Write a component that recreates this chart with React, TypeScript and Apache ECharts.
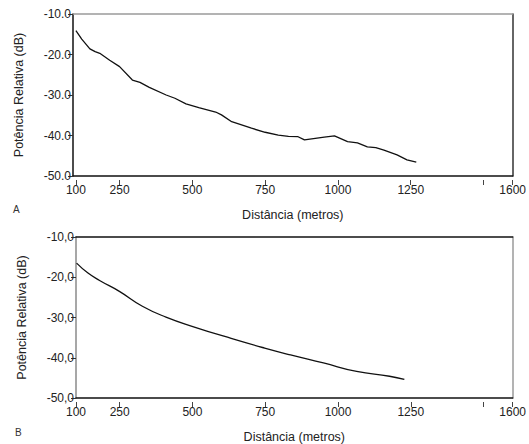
import React, { useEffect, useRef } from "react";
import * as echarts from "echarts";

const distA = [100, 120, 148, 166, 182, 216, 250, 294, 320, 352, 410, 440, 478, 522, 580, 600, 635, 703, 750, 795, 830, 863, 885, 953, 988, 1033, 1067, 1101, 1130, 1158, 1203, 1237, 1269];
const powA = [-14.1, -16.2, -18.6, -19.3, -19.7, -21.4, -23.0, -26.3, -26.9, -28.1, -30.0, -30.8, -32.2, -33.1, -34.2, -34.9, -36.6, -38.2, -39.2, -39.9, -40.2, -40.3, -41.1, -40.4, -40.1, -41.5, -41.8, -42.8, -43.0, -43.6, -44.8, -46.0, -46.6];
const distB = [102, 140, 181, 249, 328, 409, 504, 633, 748, 837, 950, 1064, 1177, 1228];
const powB = [-16.5, -18.9, -20.8, -23.5, -27.2, -29.9, -32.3, -35.2, -37.6, -39.3, -41.3, -43.4, -44.6, -45.4];
const xLabelValues = [100, 250, 500, 750, 1000, 1250, 1600];
const xTickValues = [100, 250, 500, 750, 1000, 1250, 1500, 1600];
const yTitle = "Potência Relativa (dB)";
const xTitle = "Distância (metros)";

const FONT = "Liberation Sans";

export default function App() {
  const ref = useRef<HTMLDivElement>(null);
  useEffect(() => {
    const chart = echarts.init(ref.current!, null, { renderer: "svg" });
    const txt = { fontFamily: FONT, fontSize: 12, color: "#222" };
    const mainX = (grid: number, min: number, color: string) => ({
      type: "value", gridIndex: grid, min, max: 1600, position: "bottom",
      axisLine: { show: true, lineStyle: { color, width: 1.5 } },
      axisTick: { show: false }, axisLabel: { show: false }, splitLine: { show: false },
    });
    const tickX = (grid: number, min: number, gap: number) => ({
      type: "value", gridIndex: grid, min, max: 1600, position: "bottom", offset: 4,
      axisLine: { show: false },
      axisTick: { show: true, customValues: xTickValues, length: 5, lineStyle: { color: "#444" } },
      axisLabel: { show: true, customValues: xLabelValues, margin: 4, ...txt, formatter: (v: number) => String(v) },
      splitLine: { show: false },
      name: xTitle, nameLocation: "middle", nameGap: gap, nameTextStyle: { ...txt, fontSize: 12.5 },
    });
    const topX = (grid: number, min: number, color: string) => ({
      type: "value", gridIndex: grid, min, max: 1600, position: "top",
      axisLine: { show: true, lineStyle: { color, width: 1.5 } },
      axisTick: { show: false }, axisLabel: { show: false }, splitLine: { show: false },
    });
    const leftY = (grid: number, color: string, sep: string) => ({
      type: "value", gridIndex: grid, min: -50, max: -10, interval: 10, position: "left",
      axisLine: { show: true, lineStyle: { color, width: 1.5 } },
      axisTick: { show: true, length: 5, lineStyle: { color: "#333" } },
      axisLabel: { margin: 2, ...txt, formatter: (v: number) => v.toFixed(1).replace(".", sep) },
      splitLine: { show: false },
      name: yTitle, nameLocation: "middle", nameRotate: 90, nameGap: 48,
      nameTextStyle: { ...txt, fontSize: 12.5 },
    });
    const rightY = (grid: number, color: string) => ({
      type: "value", gridIndex: grid, min: -50, max: -10, position: "right",
      axisLine: { show: true, lineStyle: { color, width: 1.5 } },
      axisTick: { show: false }, axisLabel: { show: false }, splitLine: { show: false },
    });
    chart.setOption({
      animation: false,
      grid: [
        { left: 73, top: 14, width: 444, height: 162 },
        { left: 76, top: 237, width: 443, height: 161 },
      ],
      xAxis: [
        mainX(0, 90, "#111"), tickX(0, 90, 28), topX(0, 90, "#9a9a9a"),
        mainX(1, 100, "#111"), tickX(1, 100, 28), topX(1, 100, "#111"),
      ],
      yAxis: [
        leftY(0, "#111", "."), rightY(0, "#333"),
        leftY(1, "#8a8a8a", ","), rightY(1, "#9a9a9a"),
      ],
      series: [
        {
          type: "line", xAxisIndex: 0, yAxisIndex: 0, showSymbol: false,
          lineStyle: { color: "#111", width: 1.3 },
          data: distA.map((d, i) => [d, powA[i]]),
        },
        {
          type: "line", xAxisIndex: 3, yAxisIndex: 2, showSymbol: false, smooth: true,
          lineStyle: { color: "#111", width: 1.3 },
          data: distB.map((d, i) => [d, powB[i]]),
        },
      ],
      graphic: [
        { type: "text", left: 13, top: 204, style: { text: "A", fontFamily: FONT, fontSize: 10, fill: "#333" } },
        { type: "text", left: 15, top: 427, style: { text: "B", fontFamily: FONT, fontSize: 10, fill: "#333" } },
      ],
    });
    return () => chart.dispose();
  }, []);
  return <div ref={ref} style={{ position: "fixed", left: 0, top: 0, width: 529, height: 444, background: "#fff" }} />;
}
